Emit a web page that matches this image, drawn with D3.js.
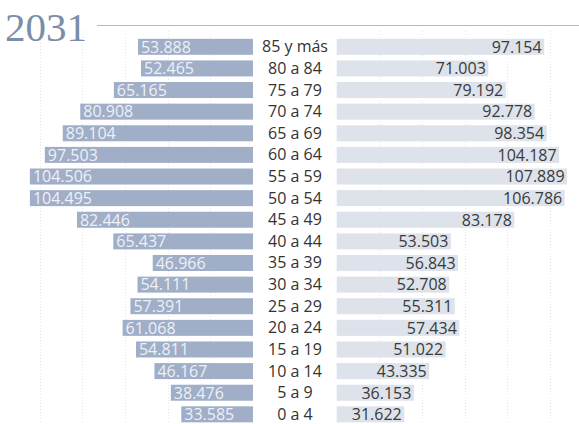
<!DOCTYPE html>
<html><head><meta charset="utf-8">
<script src="https://cdn.jsdelivr.net/npm/d3@7"></script>
<style>html,body{margin:0;padding:0;background:#fff;overflow:hidden}svg{display:block}</style>
</head><body>
<svg id="c" width="579" height="424"></svg>
<script>
const title = "2031";
const groups = ["85 y más","80 a 84","75 a 79","70 a 74","65 a 69","60 a 64","55 a 59","50 a 54","45 a 49","40 a 44","35 a 39","30 a 34","25 a 29","20 a 24","15 a 19","10 a 14","5 a 9","0 a 4"];
const leftValues = [53888,52465,65165,80908,89104,97503,104506,104495,82446,65437,46966,54111,57391,61068,54811,46167,38476,33585];
const rightValues = [97154,71003,79192,92778,98354,104187,107889,106786,83178,53503,56843,52708,55311,57434,51022,43335,36153,31622];
const gridTicks = [20000,40000,60000,80000,100000];

const svg = d3.select("#c");
const fmt = d3.formatLocale({thousands:".", decimal:",", grouping:[3], currency:["",""]}).format(",d");

const pitch = 21.62, pad = 0.26;
const y0 = 38.8 - pitch*pad/2;
const y = d3.scaleBand().domain(groups).range([y0, y0 + pitch*groups.length]).paddingInner(pad).paddingOuter(pad/2);
const span = 234.85;
const xL = d3.scaleLinear().domain([0,110000]).range([253, 253 - span]);
const xR = d3.scaleLinear().domain([0,110000]).range([336.7, 336.7 + span]);

// grid
const grid = svg.append("g").attr("stroke","#e3e6eb").attr("stroke-width",1).attr("stroke-dasharray","1,2");
grid.selectAll(".gl").data(gridTicks).join("line")
  .attr("x1",d=>Math.round(xL(d))+0.5).attr("x2",d=>Math.round(xL(d))+0.5).attr("y1",31).attr("y2",424);
grid.selectAll(".gr").data(gridTicks).join("line")
  .attr("x1",d=>Math.round(xR(d))+0.5).attr("x2",d=>Math.round(xR(d))+0.5).attr("y1",31).attr("y2",424);

// title
svg.append("text").attr("x",5).attr("y",40.5).text(title)
  .attr("font-family","'Liberation Serif', 'DejaVu Serif', serif").attr("font-size",41)
  .attr("fill","#7b8da8");
svg.append("line").attr("x1",97).attr("x2",579).attr("y1",25.5).attr("y2",25.5)
  .attr("stroke","#b3bac4").attr("stroke-width",1);

// bars
svg.selectAll(".bl").data(groups).join("rect")
  .attr("x",(d,i)=>xL(leftValues[i])).attr("width",(d,i)=>xL(0)-xL(leftValues[i]))
  .attr("y",d=>y(d)).attr("height",y.bandwidth()).attr("fill","#a0aec8");
svg.selectAll(".br").data(groups).join("rect")
  .attr("x",xR(0)).attr("width",(d,i)=>xR(rightValues[i])-xR(0))
  .attr("y",d=>y(d)).attr("height",y.bandwidth()).attr("fill","#dde2eb");

const font = "'Open Sans', Lato, sans-serif";
svg.selectAll(".tl").data(groups).join("text")
  .attr("x",(d,i)=>xL(leftValues[i])+3).attr("y",d=>y(d)+y.bandwidth()/2+5.8)
  .text((d,i)=>fmt(leftValues[i])).attr("font-family",font).attr("font-size",16)
  .attr("fill","#eef1f6");
svg.selectAll(".tr").data(groups).join("text")
  .attr("x",(d,i)=>xR(rightValues[i])-2.5).attr("y",d=>y(d)+y.bandwidth()/2+5.8)
  .attr("text-anchor","end")
  .text((d,i)=>fmt(rightValues[i])).attr("font-family",font).attr("font-size",16)
  .attr("fill","#3a3a3a");
svg.selectAll(".tc").data(groups).join("text")
  .attr("x",295).attr("y",d=>y(d)+y.bandwidth()/2+5.5)
  .attr("text-anchor","middle")
  .text(d=>d).attr("font-family",font).attr("font-size",16)
  .attr("fill","#333333");
</script>
</body></html>
